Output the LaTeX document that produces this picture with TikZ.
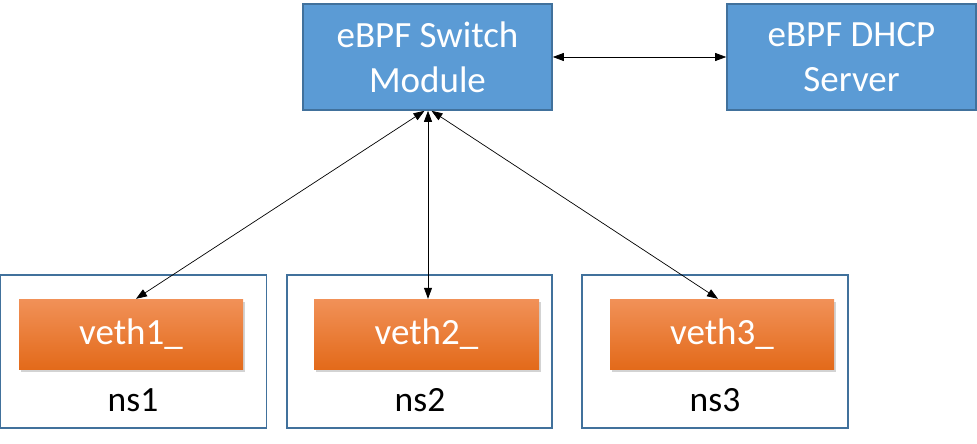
\documentclass[tikz,border=0pt]{standalone}
\usepackage{fontspec}
\setmainfont{Carlito}
\usetikzlibrary{arrows.meta}
\usetikzlibrary{shadows}
\definecolor{modblue}{RGB}{91,155,213}
\definecolor{modedge}{RGB}{65,113,156}
\definecolor{vethtop}{RGB}{241,145,88}
\definecolor{vethmid}{RGB}{241,128,45}
\definecolor{vethbot}{RGB}{227,106,26}
\tikzset{
module/.style={shape=rectangle, draw=modedge, line width=1.6pt, fill=modblue,
    text=white, align=center, font=\fontsize{37}{45}\selectfont,
    minimum width=249pt, minimum height=106pt, inner sep=0pt},
nsbox/.style={shape=rectangle, draw=modedge, line width=1.6pt,
    minimum height=153pt, inner sep=0pt},
veth/.style={shape=rectangle, top color=vethtop, middle color=vethmid, bottom color=vethbot,
    text=white, font=\fontsize{37}{45}\selectfont,
    minimum width=224pt, minimum height=70pt, inner sep=0pt,
    drop shadow={shadow xshift=1.5pt, shadow yshift=-2.5pt, opacity=.35}},
nslabel/.style={font=\fontsize{35.5}{42}\selectfont, inner sep=0pt},
link/.style={{Triangle[length=11pt,width=8pt]}-{Triangle[length=11pt,width=8pt]}, line width=0.7pt}}

\begin{document}
\begin{tikzpicture}[x=1pt, y=-1pt]
    \useasboundingbox (0,0) rectangle (977,444);

    \node[module] (sw) at (427.5,57) {eBPF Switch\\Module};
    \node[module] (dhcp) at (851.5,57) {eBPF DHCP\\Server};

    \node[nsbox, minimum width=266pt] (ns1) at (133.5,351.5) {};
    \node[nsbox, minimum width=265pt] (ns2) at (419.5,351.5) {};
    \node[nsbox, minimum width=266pt] (ns3) at (715,351.5) {};

    \node[veth] (v1) at (131,334) {veth1\_};
    \node[veth, minimum width=225pt] (v2) at (426.5,334) {veth2\_};
    \node[veth] (v3) at (722,334) {veth3\_};

    \node[nslabel] (l1) at (133,400) {ns1};
    \node[nslabel] (l2) at (420,400) {ns2};
    \node[nslabel] (l3) at (715,400) {ns3};

    \draw[link] (sw) -- (dhcp);
    \draw[link] ([xshift=-3pt]sw.south) -- ([xshift=5pt]v1.north);
    \draw[link] ([xshift=0.5pt]sw.south) -- ([xshift=1.5pt]v2.north);
    \draw[link] ([xshift=4pt]sw.south) -- ([xshift=-4pt]v3.north);

\end{tikzpicture}
\end{document}
